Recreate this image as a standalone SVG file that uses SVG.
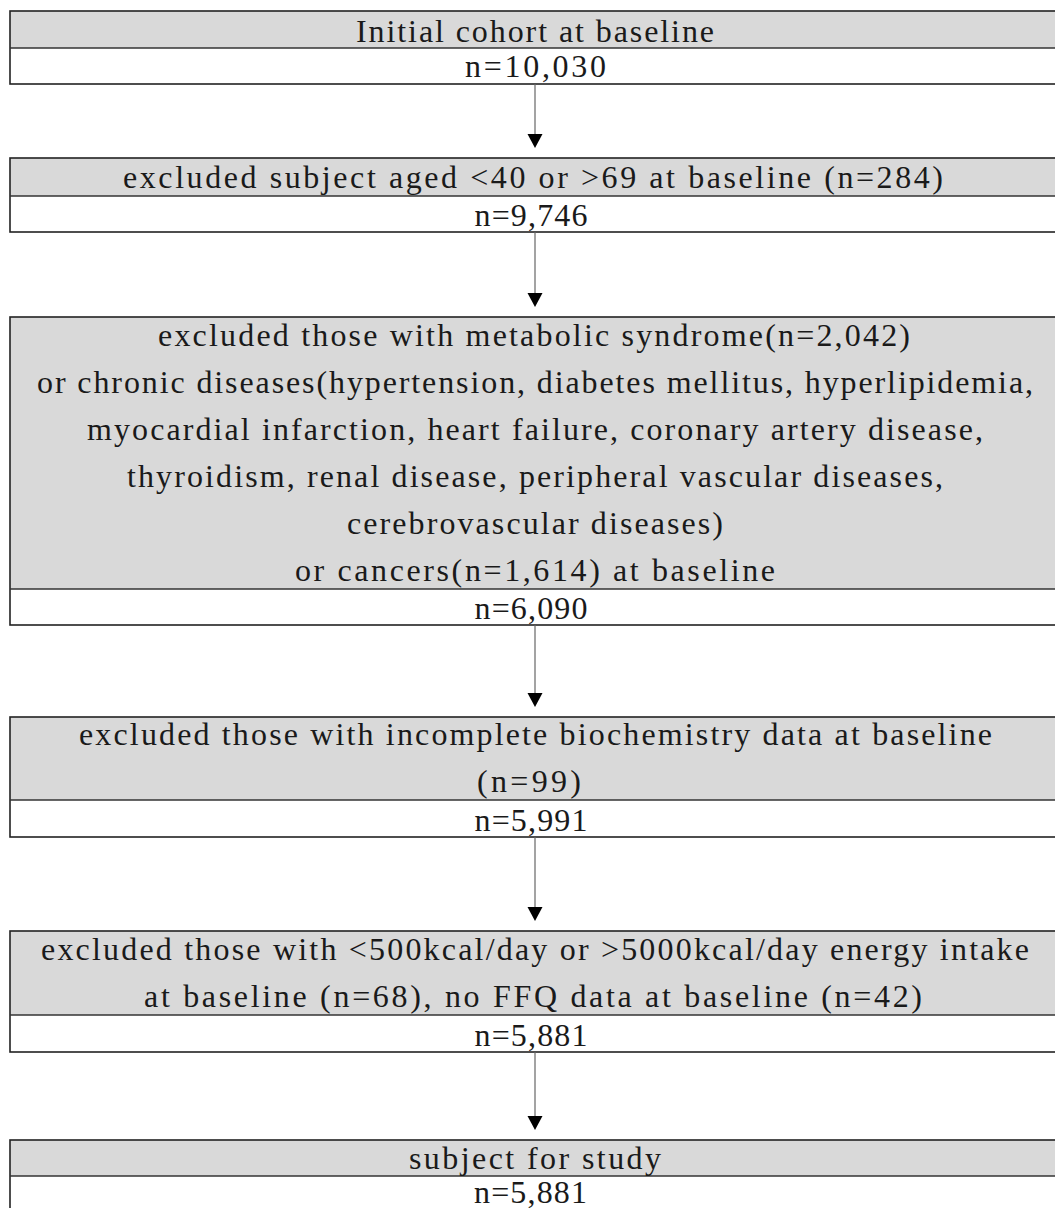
<svg xmlns="http://www.w3.org/2000/svg" width="1055" height="1208" viewBox="0 0 1055 1208">
<style>
.hd{fill:#d9d9d9;stroke:none}
.bx{fill:none;stroke:#222;stroke-width:1.6}
.dv{stroke:#333;stroke-width:1.3}
.t{font-family:"Liberation Serif","DejaVu Serif",serif;font-size:32px;fill:#1a1a1a;text-anchor:middle}
.ln{stroke:#666;stroke-width:1.2;fill:none}
.ah{fill:#000}
</style>
<rect width="1055" height="1208" fill="#fff"/>
<g id="node1">
<rect class="hd" x="10" y="11" width="1060" height="37"/>
<rect class="bx" x="10" y="11" width="1060" height="73"/>
<line class="dv" x1="10" y1="48" x2="1070" y2="48"/>
<text class="t" x="535" y="42" textLength="358" lengthAdjust="spacing">Initial cohort at baseline</text>
<text class="t" x="535.5" y="77" textLength="141" lengthAdjust="spacing">n=10,030</text>
</g>
<g id="node2">
<rect class="hd" x="10" y="158" width="1060" height="38"/>
<rect class="bx" x="10" y="158" width="1060" height="74"/>
<line class="dv" x1="10" y1="196" x2="1070" y2="196"/>
<text class="t" x="533" y="188" textLength="820" lengthAdjust="spacing">excluded subject aged &lt;40 or &gt;69 at baseline (n=284)</text>
<text class="t" x="531" y="226" textLength="113" lengthAdjust="spacing">n=9,746</text>
</g>
<g id="node3">
<rect class="hd" x="10" y="317" width="1060" height="272"/>
<rect class="bx" x="10" y="317" width="1060" height="308"/>
<line class="dv" x1="10" y1="589" x2="1070" y2="589"/>
<text class="t" x="534" y="346" textLength="752" lengthAdjust="spacing">excluded those with metabolic syndrome(n=2,042)</text>
<text class="t" x="535" y="393" textLength="996" lengthAdjust="spacing">or chronic diseases(hypertension, diabetes mellitus, hyperlipidemia,</text>
<text class="t" x="535" y="440" textLength="896" lengthAdjust="spacing">myocardial infarction, heart failure, coronary artery disease,</text>
<text class="t" x="535" y="487" textLength="816" lengthAdjust="spacing">thyroidism, renal disease, peripheral vascular diseases,</text>
<text class="t" x="535" y="534" textLength="376" lengthAdjust="spacing">cerebrovascular diseases)</text>
<text class="t" x="535" y="581" textLength="480" lengthAdjust="spacing">or cancers(n=1,614) at baseline</text>
<text class="t" x="531" y="619" textLength="113" lengthAdjust="spacing">n=6,090</text>
</g>
<g id="node4">
<rect class="hd" x="10" y="717" width="1060" height="83"/>
<rect class="bx" x="10" y="717" width="1060" height="120"/>
<line class="dv" x1="10" y1="800" x2="1070" y2="800"/>
<text class="t" x="535.5" y="745" textLength="913" lengthAdjust="spacing">excluded those with incomplete biochemistry data at baseline</text>
<text class="t" x="529" y="792" textLength="104" lengthAdjust="spacing">(n=99)</text>
<text class="t" x="531" y="831" textLength="113" lengthAdjust="spacing">n=5,991</text>
</g>
<g id="node5">
<rect class="hd" x="10" y="931" width="1060" height="84"/>
<rect class="bx" x="10" y="931" width="1060" height="121"/>
<line class="dv" x1="10" y1="1015" x2="1070" y2="1015"/>
<text class="t" x="535" y="960" textLength="988" lengthAdjust="spacing">excluded those with &lt;500kcal/day or &gt;5000kcal/day energy intake</text>
<text class="t" x="533" y="1007" textLength="778" lengthAdjust="spacing">at baseline (n=68), no FFQ data at baseline (n=42)</text>
<text class="t" x="531" y="1046" textLength="113" lengthAdjust="spacing">n=5,881</text>
</g>
<g id="node6">
<rect class="hd" x="10" y="1140" width="1060" height="36"/>
<rect class="bx" x="10" y="1140" width="1060" height="72"/>
<line class="dv" x1="10" y1="1176" x2="1070" y2="1176"/>
<text class="t" x="535" y="1169" textLength="252" lengthAdjust="spacing">subject for study</text>
<text class="t" x="530.5" y="1203" textLength="113" lengthAdjust="spacing">n=5,881</text>
</g>
<g id="connectors">
<line class="ln" x1="535" y1="84" x2="535" y2="135"/>
<polygon class="ah" points="527.5,134 542.5,134 535,148"/>
<line class="ln" x1="535" y1="232" x2="535" y2="294"/>
<polygon class="ah" points="527.5,293 542.5,293 535,307"/>
<line class="ln" x1="535" y1="625" x2="535" y2="694"/>
<polygon class="ah" points="527.5,693 542.5,693 535,707"/>
<line class="ln" x1="535" y1="837" x2="535" y2="908"/>
<polygon class="ah" points="527.5,907 542.5,907 535,921"/>
<line class="ln" x1="535" y1="1052" x2="535" y2="1117"/>
<polygon class="ah" points="527.5,1116 542.5,1116 535,1130"/>
</g>
</svg>
